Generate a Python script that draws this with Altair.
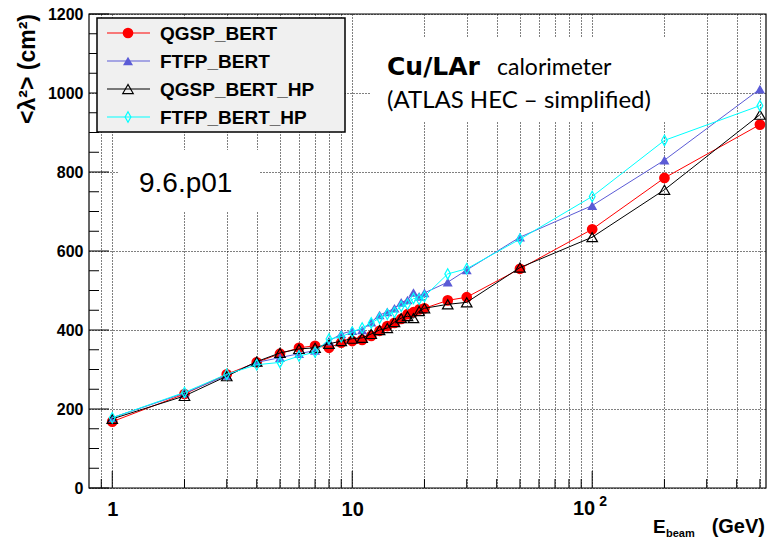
import altair as alt
import pandas as pd

# ---------------- data ----------------
energies = [1, 2, 3, 4, 5, 6, 7, 8, 9, 10, 11, 12, 13, 14, 15, 16, 17, 18, 19, 20,
            25, 30, 50, 100, 200, 500]
qgsp_bert = [168, 238, 288, 318, 340, 355, 360, 355, 368, 372, 375, 385, 398, 410,
             418, 428, 440, 445, 452, 455, 475, 483, 555, 655, 785, 920]
ftfp_bert = [178, 240, 285, 318, 330, 340, 348, 372, 390, 398, 400, 420, 438, 446,
             455, 470, 476, 495, 485, 494, 521, 552, 635, 715, 830, 1010]
qgsp_bert_hp = [175, 233, 283, 320, 342, 352, 355, 365, 372, 378, 380, 390, 400, 405,
                420, 430, 435, 430, 448, 455, 465, 470, 558, 635, 755, 945]
ftfp_bert_hp = [178, 242, 288, 312, 318, 334, 344, 377, 383, 395, 405, 418, 430, 440,
                445, 460, 465, 480, 478, 485, 542, 555, 630, 738, 880, 968]
series_names = ["QGSP_BERT", "FTFP_BERT", "QGSP_BERT_HP", "FTFP_BERT_HP"]
series_values = [qgsp_bert, ftfp_bert, qgsp_bert_hp, ftfp_bert_hp]

y_ticks_major = [0, 200, 400, 600, 800, 1000, 1200]
y_ticks_minor = [v for v in range(50, 1200, 50) if v % 200 != 0]
x_ticks_major = [1, 10, 100]
x_ticks_minor = [0.9, 2, 3, 4, 5, 6, 7, 8, 9, 20, 30, 40, 50, 60, 70, 80, 90,
                 200, 300, 400, 500]
x_tick_labels = ["1", "10", ""]
x_power_tick = 100
x_power_base = "10"
x_power_exponent = "2"

# ---------------- styles ----------------
W, H = 677, 474
FONT = "Liberation Sans"
GILL = "Lato"
DIAMOND = "M0,-1L0.55,0L0,1L-0.55,0Z"
styles = [
    dict(color="#ff0000", shape="circle", filled=True, size=115),
    dict(color="#5b5bd6", shape="triangle-up", filled=True, size=100),
    dict(color="#000000", shape="triangle-up", filled=False, size=110),
    dict(color="#00ffff", shape=DIAMOND, filled=False, size=110),
]

xscale = alt.Scale(type="log", domain=[0.8, 530], nice=False)
yscale = alt.Scale(domain=[0, 1200], nice=False, zero=False)

label_expr = " : ".join(
    f"datum.value == {v} ? '{t}'" for v, t in zip(x_ticks_major, x_tick_labels)
) + " : ''"

xaxis = alt.Axis(
    values=sorted(x_ticks_major + x_ticks_minor), grid=True, gridColor="#000000",
    gridDash=[1, 2], gridWidth=1, gridOpacity=1, ticks=False, domain=False,
    labelExpr=label_expr, labelOverlap=False, labelFlush=False, labelBound=False,
    labelFont=FONT, labelFontWeight="bold", labelFontSize=20, labelColor="#000000",
    labelPadding=11, title=None)
yaxis = alt.Axis(
    values=y_ticks_major, grid=True, gridColor="#000000", gridDash=[1, 2],
    gridWidth=1, gridOpacity=1, ticks=False, domain=False, format="d",
    labelFont=FONT, labelFontWeight="bold", labelFontSize=16, labelColor="#000000",
    labelPadding=6, labelOverlap=False, labelFlush=False, title=None)

rows = []
for name, vals in zip(series_names, series_values):
    for e, v in zip(energies, vals):
        rows.append({"E": e, "val": v, "model": name})
df = pd.DataFrame(rows)

one = alt.Data(values=[{}])


def X(field):
    return alt.X(field, scale=xscale, axis=xaxis)


def Y(field):
    return alt.Y(field, scale=yscale, axis=yaxis)


layers = []

# white text boxes covering the grid
layers.append(alt.Chart(one).mark_rect(fill="white").encode(
    x=alt.value(29), x2=alt.value(171), y=alt.value(136), y2=alt.value(198)))
layers.append(alt.Chart(one).mark_rect(fill="white").encode(
    x=alt.value(281), x2=alt.value(611), y=alt.value(24), y2=alt.value(107)))

# data series
for name, st in zip(series_names, styles):
    sub = alt.Chart(df).transform_filter(alt.datum.model == name)
    layers.append(sub.mark_line(color=st["color"], strokeWidth=1).encode(
        x=X("E:Q"), y=Y("val:Q")))
    layers.append(sub.mark_point(shape=st["shape"], filled=st["filled"], size=st["size"],
                                 color=st["color"], opacity=1, strokeWidth=1.2).encode(
        x=X("E:Q"), y=Y("val:Q")))

# inside ticks
tick_df_y = pd.DataFrame({"v": y_ticks_major + y_ticks_minor,
                          "major": [1] * len(y_ticks_major) + [0] * len(y_ticks_minor)})
tick_df_x = pd.DataFrame({"v": x_ticks_major + x_ticks_minor,
                          "major": [1] * len(x_ticks_major) + [0] * len(x_ticks_minor)})
layers.append(alt.Chart(tick_df_y).transform_filter("datum.major == 1").mark_rule(
    color="#000000", strokeWidth=1).encode(
    y=Y("v:Q"), x=alt.value(0), x2=alt.value(20)))
layers.append(alt.Chart(tick_df_y).transform_filter("datum.major == 0").mark_rule(
    color="#000000", strokeWidth=1).encode(
    y=Y("v:Q"), x=alt.value(0), x2=alt.value(10)))
layers.append(alt.Chart(tick_df_x).transform_filter("datum.major == 1").mark_rule(
    color="#000000", strokeWidth=1).encode(
    x=X("v:Q"), y=alt.value(H - 17), y2=alt.value(H)))
layers.append(alt.Chart(tick_df_x).transform_filter("datum.major == 0").mark_rule(
    color="#000000", strokeWidth=1).encode(
    x=X("v:Q"), y=alt.value(H - 9), y2=alt.value(H)))

# the 10^2 tick label (base + raised exponent)
pow_df = pd.DataFrame({"v": [x_power_tick], "b": [x_power_base], "e": [x_power_exponent]})
layers.append(alt.Chart(pow_df).mark_text(font=FONT, fontWeight="bold", fontSize=20,
                                          align="right", baseline="top", dx=3,
                                          color="#000000").encode(
    x=X("v:Q"), y=alt.value(H + 11), text="b:N"))
layers.append(alt.Chart(pow_df).mark_text(font=FONT, fontWeight="bold", fontSize=14,
                                          align="left", baseline="top", dx=7,
                                          color="#000000").encode(
    x=X("v:Q"), y=alt.value(H + 7), text="e:N"))

# legend box
layers.append(alt.Chart(one).mark_rect(fill="#f0f0f0", stroke="#000000", strokeWidth=1.5).encode(
    x=alt.value(8), x2=alt.value(256), y=alt.value(4), y2=alt.value(118)))
leg_y = [19, 47, 75, 103]
for name, st, ly in zip(series_names, styles, leg_y):
    layers.append(alt.Chart(one).mark_rule(color=st["color"], strokeWidth=1).encode(
        x=alt.value(18), x2=alt.value(61), y=alt.value(ly)))
    layers.append(alt.Chart(one).mark_point(shape=st["shape"], filled=st["filled"],
                                            size=st["size"], color=st["color"], opacity=1,
                                            strokeWidth=1.2).encode(
        x=alt.value(39), y=alt.value(ly)))
    layers.append(alt.Chart(one).mark_text(text=name, font=FONT, fontWeight="bold",
                                           fontSize=19, align="left", baseline="middle",
                                           color="#000000").encode(
        x=alt.value(71), y=alt.value(ly + 1)))

# annotations
layers.append(alt.Chart(one).mark_text(text="Cu/LAr", font="DejaVu Sans", fontWeight="bold",
                                       fontSize=25, align="left", baseline="alphabetic",
                                       color="#000000").encode(
    x=alt.value(298), y=alt.value(61)))
layers.append(alt.Chart(one).mark_text(text="calorimeter", font=GILL, fontSize=23,
                                       align="left", baseline="alphabetic",
                                       color="#000000").encode(
    x=alt.value(408), y=alt.value(61)))
layers.append(alt.Chart(one).mark_text(text="(ATLAS HEC – simplified)", font=GILL,
                                       fontSize=24, align="left", baseline="alphabetic",
                                       color="#000000").encode(
    x=alt.value(298), y=alt.value(94)))
layers.append(alt.Chart(one).mark_text(text="9.6.p01", font=FONT, fontSize=28,
                                       align="left", baseline="alphabetic",
                                       color="#000000").encode(
    x=alt.value(50), y=alt.value(178)))

# axis titles
layers.append(alt.Chart(one).mark_text(text="<λ²> (cm²)", font=FONT, fontWeight="bold",
                                       fontSize=23, angle=270, align="right",
                                       baseline="middle", color="#000000").encode(
    x=alt.value(-61), y=alt.value(0)))
layers.append(alt.Chart(one).mark_text(text="E", font=FONT, fontWeight="bold", fontSize=19,
                                       align="left", baseline="alphabetic",
                                       color="#000000").encode(
    x=alt.value(564), y=alt.value(519)))
layers.append(alt.Chart(one).mark_text(text="beam", font=FONT, fontWeight="bold", fontSize=11,
                                       align="left", baseline="alphabetic",
                                       color="#000000").encode(
    x=alt.value(577), y=alt.value(523)))
layers.append(alt.Chart(one).mark_text(text="(GeV)", font=FONT, fontWeight="bold", fontSize=20,
                                       align="right", baseline="alphabetic",
                                       color="#000000").encode(
    x=alt.value(676), y=alt.value(519)))

# frame
layers.append(alt.Chart(one).mark_rect(fill=None, stroke="#000000", strokeWidth=1.2,
                                       filled=False).encode(
    x=alt.value(0), x2=alt.value(W), y=alt.value(0), y2=alt.value(H)))

chart = alt.layer(*layers).properties(
    width=W, height=H,
    autosize=alt.AutoSizeParams(type="none"),
    padding={"left": 89, "top": 14, "right": 2, "bottom": 51},
    background="white",
).configure_view(stroke=None)

chart.save("out.html", embed_options={"renderer": "svg", "actions": False})
